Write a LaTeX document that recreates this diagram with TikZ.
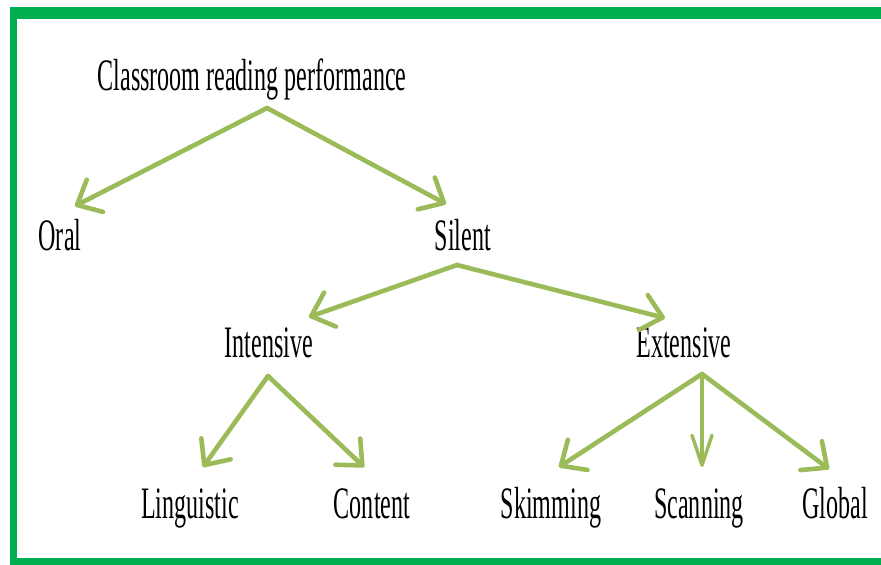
\documentclass[tikz,border=0pt]{standalone}
\usepackage{fontspec}
\setmainfont{Liberation Serif}[FakeStretch=0.535]
\usetikzlibrary{arrows.meta}
\definecolor{framegreen}{HTML}{00B050}
\definecolor{arrowgreen}{HTML}{9BBB59}
\begin{document}
\begin{tikzpicture}[x=1pt,y=-1pt,
  lbl/.style={font=\fontsize{45}{50}\selectfont, anchor=base, inner sep=0pt},
  arr/.style={draw=arrowgreen, line width=4.6pt, line cap=round,
    -{Straight Barb[length=20pt,width=36pt,round]}},
  thinarr/.style={draw=arrowgreen, line width=3.4pt, line cap=round,
    -{Straight Barb[length=30pt,width=20pt,round]}}]
\useasboundingbox (0,0) rectangle (881,565);
\fill[framegreen] (10,7) rectangle (900,575);
\fill[white] (17,19) rectangle (900,558);
% nodes
\node[lbl] (crp) at (252,90) {Classroom reading performance};
\node[lbl] (oral) at (60,250) {Oral};
\node[lbl] (silent) at (463,250) {Silent};
\node[lbl] (intensive) at (269,357) {Intensive};
\node[lbl] (extensive) at (684,357) {Extensive};
\node[lbl] (linguistic) at (190,518) {Linguistic};
\node[lbl] (content) at (372,518) {Content};
\node[lbl] (skimming) at (551,518) {Skimming};
\node[lbl] (scanning) at (699,518) {Scanning};
\node[lbl] (global) at (835,518) {Global};
% connector ends
\coordinate (crpA) at (267,108);
\coordinate (oralT) at (75,206);
\coordinate (silentT) at (446,204);
\coordinate (silentA) at (457,265);
\coordinate (intensiveT) at (309,317);
\coordinate (extensiveT) at (665,318);
\coordinate (intensiveA) at (268,376);
\coordinate (linguisticT) at (203,467);
\coordinate (contentT) at (364,467);
\coordinate (extensiveA) at (702,374);
\coordinate (skimmingT) at (559,467);
\coordinate (scanningT) at (702,467);
\coordinate (globalT) at (829,469);
% connectors
\draw[arr] (crpA) -- (oralT);
\draw[arr] (crpA) -- (silentT);
\draw[arr] (silentA) -- (intensiveT);
\draw[arr] (silentA) -- (extensiveT);
\draw[arr] (intensiveA) -- (linguisticT);
\draw[arr] (intensiveA) -- (contentT);
\draw[arr] (extensiveA) -- (skimmingT);
\draw[thinarr] (extensiveA) -- (scanningT);
\draw[arr] (extensiveA) -- (globalT);
\end{tikzpicture}
\end{document}
